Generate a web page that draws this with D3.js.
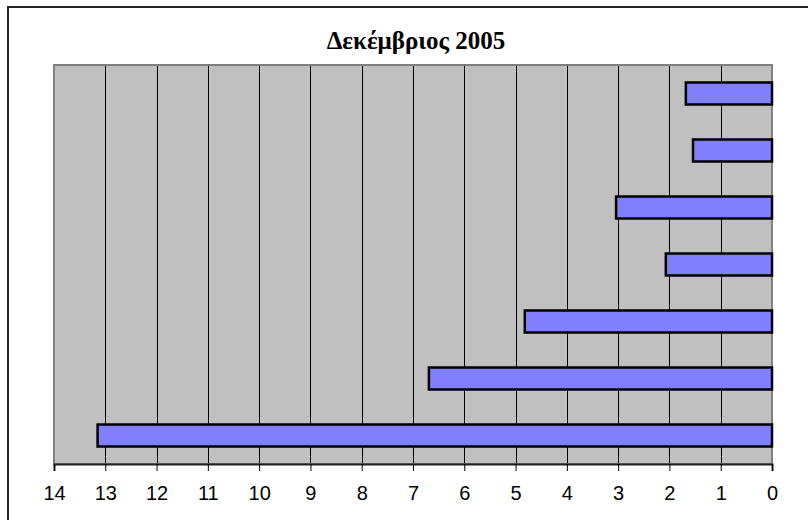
<!DOCTYPE html>
<html>
<head>
<meta charset="utf-8">
<script src="https://cdn.jsdelivr.net/npm/d3@7"></script>
<style>
	body { margin: 0; background: #fff; }
	svg { display: block; }
</style>
</head>
<body>
<div id="chart"></div>
<script>
'use strict';

// values, top bar first
var categories = ['1', '2', '3', '4', '5', '6', '7'];
var values = [1.68, 1.54, 3.04, 2.07, 4.82, 6.69, 13.15];
var tickValues = [0, 1, 2, 3, 4, 5, 6, 7, 8, 9, 10, 11, 12, 13, 14];
var title = 'Δεκέμβριος 2005';

var width = 808, height = 520;
var plot = { left: 54, right: 772, top: 65, bottom: 464 };

var svg = d3.select('#chart').append('svg')
	.attr('width', width)
	.attr('height', height);

// outer frame (runs off right and bottom edges)
svg.append('rect')
	.attr('x', 8).attr('y', 7)
	.attr('width', 820).attr('height', 540)
	.style('fill', '#fff')
	.style('stroke', '#222')
	.style('stroke-width', 2);

var x = d3.scaleLinear().domain([0, 14]).range([plot.right, plot.left]);
var y = d3.scaleBand().domain(categories)
	.range([plot.top, plot.bottom])
	.paddingInner(0.614)
	.paddingOuter(0.307);

// plot background
svg.append('rect')
	.attr('x', plot.left).attr('y', plot.top)
	.attr('width', plot.right - plot.left)
	.attr('height', plot.bottom - plot.top)
	.style('fill', '#c0c0c0');

// vertical gridlines
svg.append('g').selectAll('line')
	.data(tickValues.filter(function (d) { return d > 0 && d < 14; }))
	.enter().append('line')
	.attr('x1', function (d) { return Math.round(x(d)) + 0.5; })
	.attr('x2', function (d) { return Math.round(x(d)) + 0.5; })
	.attr('y1', plot.top)
	.attr('y2', plot.bottom)
	.style('stroke', '#000')
	.style('stroke-width', 1);

// plot border
svg.append('rect')
	.attr('x', plot.left).attr('y', plot.top)
	.attr('width', plot.right - plot.left)
	.attr('height', plot.bottom - plot.top)
	.style('fill', 'none')
	.style('stroke', '#808080')
	.style('stroke-width', 2);

// bars
svg.append('g').selectAll('rect')
	.data(values)
	.enter().append('rect')
	.attr('x', function (d) { return x(d); })
	.attr('y', function (d, i) { return y(categories[i]); })
	.attr('width', function (d) { return x(0) - x(d); })
	.attr('height', y.bandwidth())
	.style('fill', '#8080ff')
	.style('stroke', '#000')
	.style('stroke-width', 2.5);

// x axis
var axis = d3.axisBottom(x)
	.tickValues(tickValues)
	.tickSize(7)
	.tickPadding(15)
	.tickFormat(d3.format('d'));

var ax = svg.append('g')
	.attr('transform', 'translate(0,' + plot.bottom + ')')
	.call(axis);
ax.select('.domain')
	.style('stroke', '#222')
	.style('stroke-width', 2);
ax.selectAll('.tick line').style('stroke', '#000');
ax.selectAll('.tick text')
	.style('font-family', '"Liberation Sans", Arial, sans-serif')
	.style('font-size', '20px')
	.style('fill', '#000');

// title
svg.append('text')
	.attr('x', 416)
	.attr('y', 49)
	.attr('text-anchor', 'middle')
	.style('font-family', '"Liberation Serif", "DejaVu Serif", serif')
	.style('font-weight', 'bold')
	.style('font-size', '25px')
	.text(title);
</script>
</body>
</html>
